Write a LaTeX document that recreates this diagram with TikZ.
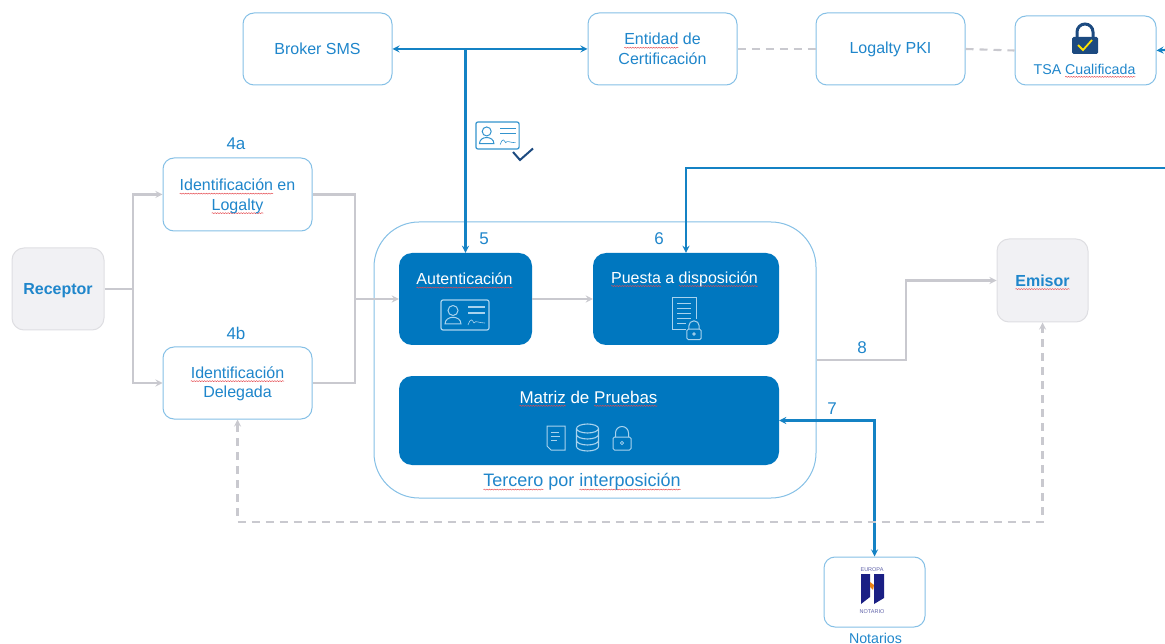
\documentclass[tikz,border=0pt]{standalone}
\usepackage{fontspec}
\setmainfont{Liberation Sans}
\usetikzlibrary{calc,positioning,arrows,shapes,decorations.pathmorphing}
\definecolor{lgblue}{HTML}{0077BF}
\definecolor{lgtext}{HTML}{1F86CB}
\definecolor{lgedge}{HTML}{85C0E6}
\definecolor{lggray}{HTML}{C9C9CF}
\definecolor{lgfill}{HTML}{F1F1F4}
\definecolor{lgrim}{HTML}{DEDEE2}
\definecolor{lgicon}{HTML}{A9D3EE}
\definecolor{lgnavy}{HTML}{1C4A80}
\definecolor{lgdeep}{HTML}{1A1F84}
\definecolor{lgwave}{HTML}{E5484D}
\newdimen\wavewd
\newcommand{\sic}[1]{\leavevmode\setbox0\hbox{#1}\wavewd=\wd0\tikz[overlay,baseline=0pt,x=1pt,y=1pt,sharp corners]\draw[lgwave,line width=.45pt,decorate,decoration={snake,amplitude=.5pt,segment length=2.6pt}] (0,-2.8) -- (\wavewd,-2.8);\box0\relax}
\newcommand{\fs}[1]{\fontsize{#1}{19.5}\selectfont}
\tikzset{
	whitebox/.style={draw=lgedge,line width=1pt,fill=white,rounded corners=11pt,text=lgtext,align=center,font=\fs{16}},
	graybox/.style={draw=lgrim,line width=1pt,fill=lgfill,rounded corners=12pt,text=lgtext,align=center,font=\fs{16}\bfseries,text height=11.5pt,text depth=0pt},
	bluebox/.style={fill=lgblue,draw=none,rounded corners=13pt},
	bluetxt/.style={text=white,font=\fs{16}},
	steplabel/.style={text=lgtext,font=\fs{17}},
	blueline/.style={color=lgblue!92!white,line width=2.1pt,>=stealth},
	grayline/.style={color=lggray,line width=2.1pt,>=stealth},
	graydash/.style={grayline,dash pattern=on 8pt off 6pt},
	pics/idcard/.style={code={
		\draw[line width=1.2pt,rounded corners=2pt] (-24,-15) rectangle (24,15);
		\draw[line width=1pt] (-12,-4.5) circle (5);
		\draw[line width=1pt] (-20,9) .. controls (-20,0) and (-4,0) .. (-4,9) -- cycle;
		\draw[line width=1.2pt] (3,-8) -- (20,-8) (3,-2) -- (20,-2);
		\draw[line width=.6pt] (3,10) .. controls (6,2) and (7,5) .. (9,8) .. controls (11,5) and (13,8) .. (20,8);
	}},
	pics/padlock/.style={code={
		\draw[line width=1pt,rounded corners=1.5pt] (-9,-1) rectangle (9,12);
		\draw[line width=1pt] (-6.5,-1) -- (-6.5,-5) arc[start angle=180,end angle=360,radius=6.5] -- (6.5,-1);
		\draw[line width=.8pt] (0,5) circle (1.6);
	}},
	pics/docpage/.style={code={
		\draw[line width=1pt] (-9,-12) -- (9,-12) -- (9,12) -- (-5,12) -- (-9,8) -- cycle;
		\draw[line width=.8pt] (-5,-6) -- (3,-6) (-5,-2) -- (4,-2) (-5,2) -- (1,2);
	}},
	pics/docsheet/.style={code={
		\draw[line width=1pt] (-12,-16) rectangle (12,16);
		\foreach \liney in {-11,-6,-1,4,9}
			\draw[line width=.8pt] (-7,\liney) -- (7,\liney);
	}},
	pics/datadisk/.style={code={
		\draw[line width=1.1pt] (-11,-9) -- (-11,9) arc[start angle=180,end angle=0,x radius=11,y radius=4.5] -- (11,-9);
		\draw[line width=1.1pt] (0,-9) ellipse (11 and 4.5);
		\draw[line width=1.1pt] (-11,-3) arc[start angle=180,end angle=0,x radius=11,y radius=4.5];
		\draw[line width=1.1pt] (-11,3) arc[start angle=180,end angle=0,x radius=11,y radius=4.5];
	}},
}
\begin{document}
\begin{tikzpicture}[x=1pt,y=-1pt]
	\useasboundingbox (0,0) rectangle (1165,644);
	% containers first
	\node[whitebox,rounded corners=45pt,minimum width=442pt,minimum height=276pt] (tercero) at (595,360) {};
	\node[steplabel,font=\fs{18}] (tercerotxt) at (582,482) {\sic{Tercero} por \sic{interposición}};
	% top row
	\node[whitebox,minimum width=149pt,minimum height=72pt] (broker) at (317.5,49) {Broker SMS};
	\node[whitebox,minimum width=149pt,minimum height=72pt] (entidad) at (662.5,49) {\sic{Entidad} de\\Certificación};
	\node[whitebox,minimum width=149pt,minimum height=72pt] (pki) at (890.5,49) {Logalty PKI};
	\node[whitebox,minimum width=141pt,minimum height=69pt] (tsa) at (1085.5,50.5) {};
	\node[text=lgtext,font=\fs{14.2}] (tsatxt) at (1084.5,69) {TSA \sic{Cualificada}};
	% left column
	\node[graybox,minimum width=92pt,minimum height=82pt] (receptor) at (58,289) {Receptor};
	\node[whitebox,minimum width=149pt,minimum height=73pt] (idlogalty) at (237.5,194.5) {\rule{0pt}{15.5pt}\sic{Identificación} en\\\sic{Logalty}};
	\node[whitebox,minimum width=149pt,minimum height=72pt] (iddelegada) at (237.5,383) {\rule{0pt}{13.5pt}\sic{Identificación}\\Delegada};
	\node[steplabel] (n4a) at (236,144) {4a};
	\node[steplabel] (n4b) at (236,333) {4b};
	% inside the third party
	\node[bluebox,minimum width=133pt,minimum height=92pt] (autent) at (465.5,299) {};
	\node[bluetxt] (autenttxt) at (464.5,279) {\sic{Autenticación}};
	\node[bluebox,minimum width=186pt,minimum height=92pt] (puesta) at (686,299) {};
	\node[bluetxt] (puestatxt) at (684.5,279) {\sic{Puesta} a \sic{disposición}};
	\node[bluebox,minimum width=380pt,minimum height=89pt] (matriz) at (589,420.5) {};
	\node[bluetxt,font=\fs{17}] (matriztxt) at (588.5,397) {\sic{Matriz} de \sic{Pruebas}};
	% right side
	\node[graybox,minimum width=91pt,minimum height=83pt] (emisor) at (1042.5,280.5) {\sic{Emisor}};
	\node[whitebox,minimum width=101pt,minimum height=70pt] (notarios) at (874.5,592) {};
	\node[text=lgtext,font=\fs{14.2}] (notariostxt) at (875.5,638) {Notarios};
	\node[steplabel] (n5) at (484,239) {5};
	\node[steplabel] (n6) at (659,239) {6};
	\node[steplabel] (n7) at (832,409) {7};
	\node[steplabel] (n8) at (862,348) {8};
	\coordinate (feedtsa) at (1165,50);
	\coordinate (feedpuesta) at (1165,168);
	\coordinate (splitl) at (133,289);
	\coordinate (mergel) at (355,299);
	\coordinate (bend8) at (906,360);
	\coordinate (backl) at (237.5,522);
	% connectors
	\path[blueline]
	(broker) edge[<->] (entidad)
	(autent.north |- broker.east) edge[->] (autent.north)
	(feedtsa) edge[->] (tsa.east);
	\draw[blueline,->] (feedpuesta) -| (puesta.north);
	\draw[blueline,<->] (matriz.east) -| (notarios.north);
	\draw[grayline] (receptor.east) -- (splitl);
	\draw[grayline,->] (splitl) |- (idlogalty.west);
	\draw[grayline,->] (splitl) |- (iddelegada.west);
	\draw[grayline] (idlogalty.east) -| (mergel);
	\draw[grayline] (iddelegada.east) -| (mergel);
	\draw[grayline,->] (mergel) -- (autent.west);
	\draw[grayline,->] (autent.east) -- (puesta.west);
	\draw[grayline,->] (tercero.east) -- (bend8) |- (emisor.west);
	\path[graydash]
	(entidad.east) edge (pki.west)
	(pki.east) edge (tsa.west);
	\draw[graydash,<->] (iddelegada.south) -- (backl) -| (emisor.south);
	% icons
	\pic[color=lgicon] at (465,315) {idcard};
	\pic[color=lgblue!70!lgicon,scale=.9] at (497.5,135.5) {idcard};
	\draw[lgnavy,line width=2pt] (513,152) -- (520,160) -- (533,148.5);
	\pic[color=lgicon] at (684,314) {docsheet};
	\fill[lgblue] (686,319) rectangle (702,340);
	\pic[color=lgicon,scale=.8] at (694,330) {padlock};
	\pic[color=lgicon] at (556,438) {docpage};
	\pic[color=lgicon] at (587.5,437.5) {datadisk};
	\pic[color=lgicon] at (622,438) {padlock};
	% lock of the qualified stamp
	\draw[lgnavy,line width=3pt] (1077,38) -- (1077,32) arc[start angle=180,end angle=360,radius=8] -- (1093,38);
	\fill[lgnavy,rounded corners=1.5pt] (1072,37) rectangle (1098,54);
	\draw[yellow!85!orange,line width=1.8pt] (1078,45) -- (1083,50) -- (1092,40);
	% notary emblem
	\node[text=lgdeep!70,font=\fontsize{5.5}{6}\selectfont] (europatxt) at (872,569.5) {EUROPA};
	\node[text=lgdeep!70,font=\fontsize{5.5}{6}\selectfont] (notariotxt) at (872,612) {NOTARIO};
	\fill[lgdeep] (861,574) -- (870,574) -- (870,597) -- (861,604) -- cycle;
	\fill[lgdeep] (874,574) -- (884,574) -- (884,598) -- (874,604) -- cycle;
	\fill[orange!70!brown] (870,582) -- (874,585) -- (873,590) -- (870,587) -- cycle;
\end{tikzpicture}
\end{document}
